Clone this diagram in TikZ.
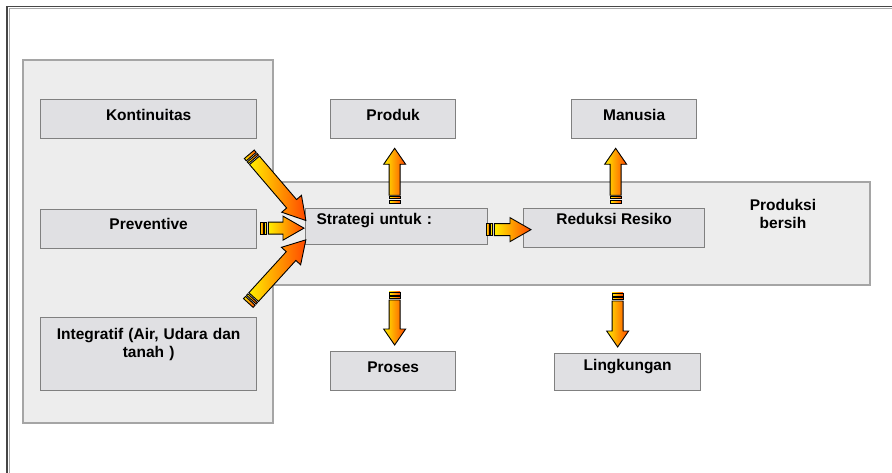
\documentclass[tikz,border=0pt]{standalone}
\usepackage{fontspec}
\setmainfont{Liberation Sans}
\usetikzlibrary{calc}
\definecolor{boxfill}{RGB}{224,224,227}
\definecolor{boxline}{RGB}{128,128,128}
\definecolor{panelfill}{RGB}{237,237,237}
\definecolor{panelline}{RGB}{165,165,165}
\definecolor{arrY}{RGB}{255,238,0}
\definecolor{arrR}{RGB}{255,72,0}
\definecolor{frameD}{RGB}{70,70,70}
\definecolor{frameL}{RGB}{170,170,170}
\newcommand\blockarr[5]{%
  \path let \p1=($(#2)-(#1)$) in \pgfextra{%
    \pgfmathsetmacro\arrlen{veclen(\x1,\y1)}%
    \pgfmathsetmacro\arrang{atan2(\y1,\x1)}%
    \xdef\arrlenG{\arrlen}\xdef\arrangG{\arrang}};
  \begin{scope}[shift={(#1)}, rotate=\arrangG]
    \shade[arrbody] (8pt,-#3pt) -- ({\arrlenG pt-#5pt},-#3pt) -- ({\arrlenG pt-#5pt},-#4pt)
      -- (\arrlenG pt,0pt) -- ({\arrlenG pt-#5pt},#4pt) -- ({\arrlenG pt-#5pt},#3pt) -- (8pt,#3pt) -- cycle;
    \shade[arrbody] (0pt,-#3pt) rectangle (3pt,#3pt);
    \shade[arrbody] (4.5pt,-#3pt) rectangle (6.5pt,#3pt);
  \end{scope}}
\tikzset{
  box/.style={draw=boxline, line width=1.3pt, fill=boxfill, inner xsep=0pt, inner ysep=0pt,
    anchor=north west, font=\fontsize{15.5}{18}\selectfont\bfseries, text=black},
  arrbody/.style={draw=black, line width=0.9pt, left color=arrY, right color=arrR, line join=miter},
  plain/.style={font=\fontsize{15.5}{18}\selectfont\bfseries, text=black, inner sep=0pt}
}
\begin{document}
\begin{tikzpicture}[x=1pt,y=-1pt]
\useasboundingbox (0,0) rectangle (892,473);
\fill[white] (0,0) rectangle (892,473);
% frame
\draw[frameL, line width=1pt] (9.5,473) -- (9.5,9) -- (892,9);
\draw[frameD, line width=1.5pt] (7,473) -- (7,6.5) -- (892,6.5);
% panel and band
\draw[panelline, fill=panelfill, line width=1.3pt]
  (23,60) -- (273,60) -- (273,182) -- (870,182) -- (870,285) -- (273,285) -- (273,423) -- (23,423) -- cycle;
% boxes
\node[box, minimum width=216pt, text height=21pt, text depth=18pt] (kont) at (40,99) {Kontinuitas};
\node[box, minimum width=216pt, text height=20pt, text depth=19pt] (prev) at (40,209) {Preventive};
\node[box, text width=216pt, align=center, text height=22pt, text depth=51pt] (integ) at (40,317) {Integratif (Air, Udara dan\\ tanah )};
\node[box, minimum width=125pt, text height=21pt, text depth=18pt] (produk) at (330,99) {Produk};
\node[box, minimum width=125pt, text height=21pt, text depth=18pt] (proses) at (330,351) {Proses};
\node[box, text width=160pt, inner xsep=11pt, align=left, text height=16pt, text depth=20pt] (strat) at (305,208) {Strategi untuk :};
\node[box, minimum width=181pt, text height=16pt, text depth=23pt] (red) at (523,208) {Reduksi Resiko};
\node[box, minimum width=125pt, text height=21pt, text depth=18pt] (manusia) at (571,99) {Manusia};
\node[box, minimum width=146pt, text height=17pt, text depth=20pt] (ling) at (554,353) {Lingkungan};
\node[plain, text width=120pt, align=center, anchor=base] (prod) at (783,211) {Produksi\\ bersih};
% arrow end points
\coordinate (a1t) at ($(kont.south east)+(-8,15)$);
\coordinate (a1h) at ($(strat.west)+(1,-6)$);
\coordinate (a2t) at ($(prev.east)+(3,-1)$);
\coordinate (a2h) at ($(strat.west)+(-1,1.5)$);
\coordinate (a3t) at ($(integ.north east)+(-9,-14)$);
\coordinate (a3h) at ($(strat.west)+(1,13)$);
\coordinate (a4t) at ($(strat.east)+(-2,3)$);
\coordinate (a4h) at ($(red.west)+(8,1.5)$);
\coordinate (a5t) at ($(produk.south)+(1.5,64)$);
\coordinate (a5h) at ($(produk.south)+(1.5,9)$);
\coordinate (a6t) at ($(proses.north)+(1.5,-59)$);
\coordinate (a6h) at ($(proses.north)+(1.5,-6)$);
\coordinate (a7t) at ($(manusia.south)+(-18.5,64)$);
\coordinate (a7h) at ($(manusia.south)+(-18.5,9)$);
\coordinate (a8t) at ($(ling.north)+(-10,-60)$);
\coordinate (a8h) at ($(ling.north)+(-10,-6)$);
% arrows
\blockarr{a1t}{a1h}{6.5}{13}{22}
\blockarr{a3t}{a3h}{6.5}{13}{22}
\blockarr{a2t}{a2h}{6}{12}{21}
\blockarr{a4t}{a4h}{6}{12}{21}
\blockarr{a5t}{a5h}{5.5}{11}{16}
\blockarr{a6t}{a6h}{5.5}{11}{16}
\blockarr{a7t}{a7h}{5.5}{11}{16}
\blockarr{a8t}{a8h}{5.5}{11}{16}
\end{tikzpicture}
\end{document}
